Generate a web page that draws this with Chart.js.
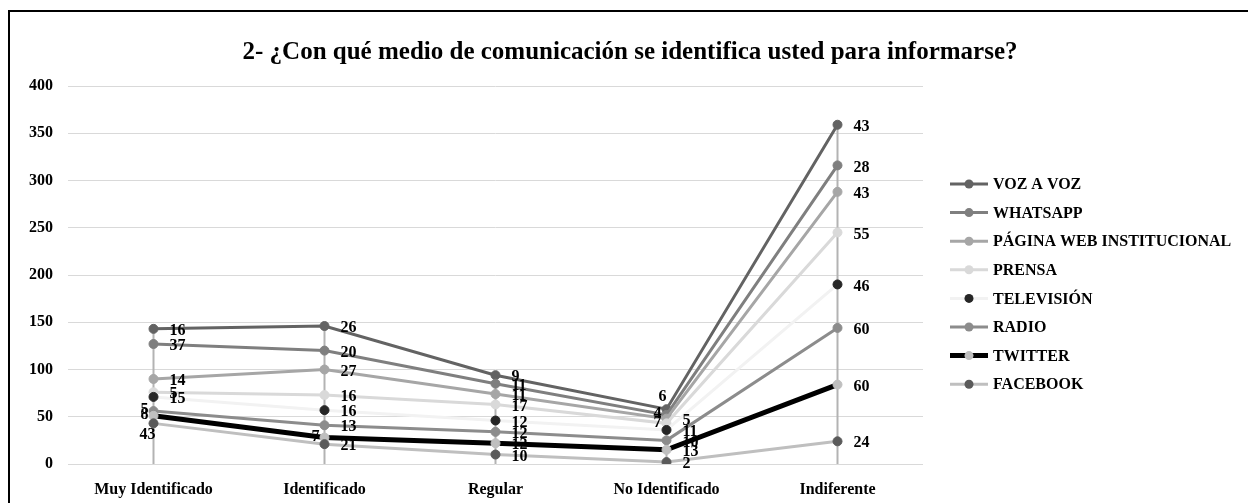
<!DOCTYPE html>
<html>
<head>
<meta charset="utf-8">
<script src="https://cdn.jsdelivr.net/npm/chart.js@4/dist/chart.umd.min.js"></script>
<style>
  html, body { margin: 0; padding: 0; background: #fff; overflow: hidden; }
  #frame { position: absolute; left: 8px; top: 10px; width: 1300px; height: 600px; border: 2px solid #000; }
  #wrap { position: absolute; left: 10px; top: 12px; width: 1238px; height: 491px; }
</style>
</head>
<body>
<div id="frame"></div>
<div id="wrap"><canvas id="chart"></canvas></div>
<script>
// categories and series (stacked, bottom series first)
const categories = ['Muy Identificado', 'Identificado', 'Regular', 'No Identificado', 'Indiferente'];
const seriesNames = ['FACEBOOK', 'TWITTER', 'RADIO', 'TELEVISIÓN', 'PRENSA', 'PÁGINA WEB INSTITUCIONAL', 'WHATSAPP', 'VOZ A VOZ'];
const facebook   = [43, 21, 10, 2, 24];
const twitter    = [8, 7, 12, 13, 60];
const radio      = [5, 13, 12, 10, 60];
const television = [15, 16, 12, 11, 46];
const prensa     = [5, 16, 17, 7, 55];
const paginaWeb  = [14, 27, 11, 5, 43];
const whatsapp   = [37, 20, 11, 4, 28];
const vozAVoz    = [16, 26, 9, 6, 43];
const yTicks = [0, 50, 100, 150, 200, 250, 300, 350, 400];
const chartTitle = '2- ¿Con qué medio de comunicación se identifica usted para informarse?';

const seriesValues = [facebook, twitter, radio, television, prensa, paginaWeb, whatsapp, vozAVoz];

// styles per series
const lineColors   = ['#bfbfbf', '#000000', '#8c8c8c', '#f2f2f2', '#d9d9d9', '#a6a6a6', '#7f7f7f', '#636363'];
const markerColors = ['#5a5a5a', '#bfbfbf', '#8c8c8c', '#262626', '#d9d9d9', '#a6a6a6', '#7f7f7f', '#636363'];
const lineWidths   = [3, 5, 3, 3, 3, 3, 3, 3];

// data label placement: r = right, l = left, t = above, b = below
const labelPlacement = [
  ['b', 'r', 'r', 'r', 'r'],
  ['l', 'l', 'r', 'r', 'r'],
  ['l', 'r', 'r', 'r', 'r'],
  ['r', 'r', 'r', 'r', 'r'],
  ['r', 'r', 'r', 'l', 'r'],
  ['r', 'r', 'r', 'r', 'r'],
  ['r', 'r', 'r', 'l', 'r'],
  ['r', 'r', 'r', 't', 'r']
];

const FONT = '"Liberation Serif", "Times New Roman", serif';

/**
 * Chart title, centred on the whole canvas (not the plot)
 */
const titlePlugin = {
  id: 'bigTitle',
  afterDraw(chart) {
    const ctx = chart.ctx;
    ctx.save();
    ctx.font = 'bold 25px ' + FONT;
    ctx.fillStyle = '#000';
    ctx.textAlign = 'center';
    ctx.textBaseline = 'middle';
    ctx.fillText(chartTitle, 620, 41);
    ctx.restore();
  }
};

/**
 * Vertical drop lines from the highest point down to the axis
 */
const dropLines = {
  id: 'dropLines',
  beforeDatasetsDraw(chart) {
    const ctx = chart.ctx;
    const y0 = chart.scales.y.getPixelForValue(0);
    ctx.save();
    ctx.strokeStyle = '#b3b3b3';
    ctx.lineWidth = 2;
    categories.forEach((c, j) => {
      let top = y0;
      let x = 0;
      chart.data.datasets.forEach((ds, i) => {
        const pt = chart.getDatasetMeta(i).data[j];
        if (pt.y < top) top = pt.y;
        x = pt.x;
      });
      ctx.beginPath();
      ctx.moveTo(x, top);
      ctx.lineTo(x, y0);
      ctx.stroke();
    });
    ctx.restore();
  }
};

/**
 * Value labels next to each point
 */
const valueLabels = {
  id: 'valueLabels',
  afterDatasetsDraw(chart) {
    const ctx = chart.ctx;
    ctx.save();
    ctx.font = 'bold 16px ' + FONT;
    ctx.fillStyle = '#000';
    chart.data.datasets.forEach((ds, i) => {
      chart.getDatasetMeta(i).data.forEach((pt, j) => {
        const text = String(ds.data[j]);
        const pos = labelPlacement[i][j];
        ctx.textBaseline = 'middle';
        if (pos === 'r') {
          ctx.textAlign = 'left';
          ctx.fillText(text, pt.x + 16, pt.y + 2);
        } else if (pos === 'l') {
          ctx.textAlign = 'right';
          ctx.fillText(text, pt.x - 5, pt.y - 1);
        } else if (pos === 't') {
          ctx.textAlign = 'center';
          ctx.fillText(text, pt.x - 4, pt.y - 12);
        } else {
          ctx.textAlign = 'center';
          ctx.fillText(text, pt.x - 6, pt.y + 11);
        }
      });
    });
    ctx.restore();
  }
};

/**
 * Legend on the right, top series first
 */
const sideLegend = {
  id: 'sideLegend',
  afterDraw(chart) {
    const ctx = chart.ctx;
    const n = chart.data.datasets.length;
    ctx.save();
    ctx.font = 'bold 16px ' + FONT;
    ctx.textAlign = 'left';
    ctx.textBaseline = 'middle';
    for (let k = 0; k < n; k++) {
      const i = n - 1 - k;
      const ds = chart.data.datasets[i];
      const y = 172 + k * 28.6;
      ctx.strokeStyle = ds.borderColor;
      ctx.lineWidth = ds.borderWidth;
      ctx.beginPath();
      ctx.moveTo(940, y);
      ctx.lineTo(978, y);
      ctx.stroke();
      ctx.fillStyle = ds.pointBackgroundColor;
      ctx.beginPath();
      ctx.arc(959, y, 4.5, 0, Math.PI * 2);
      ctx.fill();
      ctx.fillStyle = '#000';
      ctx.fillText(ds.label, 983, y + 1);
    }
    ctx.restore();
  }
};

const datasets = seriesNames.map((name, i) => ({
  label: name,
  data: seriesValues[i],
  borderColor: lineColors[i],
  backgroundColor: lineColors[i],
  borderWidth: lineWidths[i],
  pointBackgroundColor: markerColors[i],
  pointBorderColor: markerColors[i],
  pointBorderWidth: 1,
  pointRadius: 4.5,
  tension: 0,
  fill: false
}));

new Chart(document.getElementById('chart'), {
  type: 'line',
  data: { labels: categories, datasets },
  options: {
    responsive: true,
    maintainAspectRatio: false,
    animation: false,
    layout: { padding: { left: 0, right: 325, top: 74, bottom: 0 } },
    plugins: {
      legend: { display: false },
      tooltip: { enabled: false },
      title: { display: false }
    },
    scales: {
      x: {
        offset: true,
        grid: { display: false },
        border: { display: false },
        ticks: { color: '#000', font: { family: FONT, size: 16, weight: 'bold' }, padding: 8, maxRotation: 0 },
        afterFit(scale) { scale.height = 39; }
      },
      y: {
        stacked: true,
        min: 0,
        max: 400,
        afterBuildTicks(scale) { scale.ticks = yTicks.map(v => ({ value: v })); },
        grid: { color: '#d9d9d9', lineWidth: 1, drawTicks: false },
        border: { display: false },
        ticks: { color: '#000', font: { family: FONT, size: 16, weight: 'bold' }, padding: 15 },
        afterFit(scale) { scale.width = 58; }
      }
    }
  },
  plugins: [dropLines, valueLabels, sideLegend, titlePlugin]
});
</script>
</body>
</html>
